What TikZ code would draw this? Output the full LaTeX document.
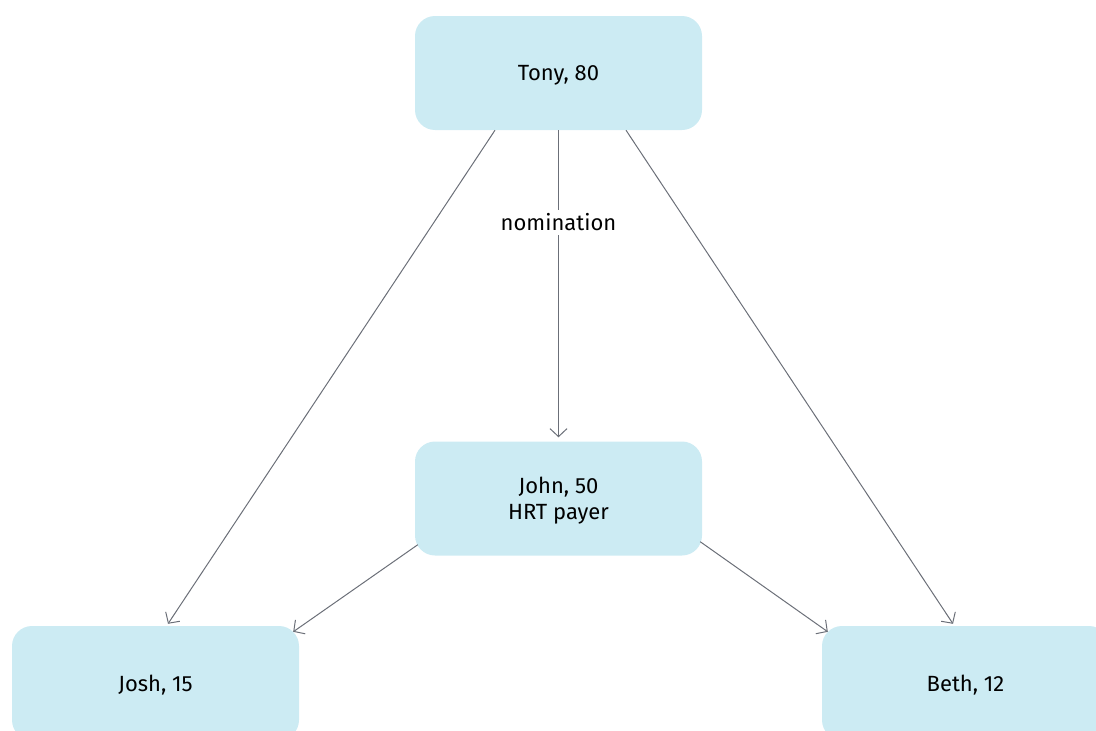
\documentclass[tikz,border=0pt]{standalone}
\usepackage{fontspec}
\setmainfont{Fira Sans}
\usetikzlibrary{arrows.meta}
\definecolor{boxfill}{HTML}{CCEBF3}
\definecolor{linegray}{HTML}{6B6F78}
\begin{document}
\begin{tikzpicture}[x=1pt,y=-1pt,
  person/.style={fill=boxfill,rounded corners=20pt,minimum width=287pt,minimum height=114pt,
    inner sep=0pt,align=center,font=\fontsize{22}{26}\selectfont,text=black,text depth=0pt},
  link/.style={draw=linegray,line width=1pt,-{Straight Barb[length=8pt,width=17pt,line width=1pt]}},
  lbl/.style={fill=white,font=\fontsize{22}{26}\selectfont,text=black,inner sep=4pt}]
\useasboundingbox (0,0) rectangle (1096,731);
\clip (0,0) rectangle (1096,731);
\node[person] (tony) at (558.5,73) {Tony, 80};
\node[person] (john) at (558.5,498.5) {John, 50\\HRT payer};
\node[person] (josh) at (155.5,683) {Josh, 15};
\node[person] (beth) at (965.5,683) {Beth, 12};
\draw[link] ([xshift=-63.5pt]tony.south) -- ([xshift=12.5pt,yshift=2pt]josh.north);
\draw[link] (tony.south) -- node[lbl,pos=0.3] (nom) {nomination} ([yshift=4pt]john.north);
\draw[link] ([xshift=67.5pt]tony.south) -- ([xshift=-12.5pt,yshift=2pt]beth.north);
\draw[link] ([shift={(3pt,11pt)}]john.south west) -- ([shift={(-6pt,-6pt)}]josh.north east);
\draw[link] ([shift={(-2pt,14pt)}]john.south east) -- ([shift={(6pt,-6pt)}]beth.north west);
\end{tikzpicture}
\end{document}
